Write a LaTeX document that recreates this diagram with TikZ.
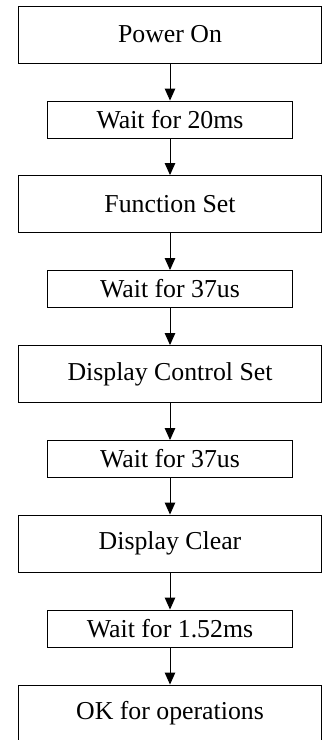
\documentclass[tikz,border=0pt]{standalone}
\usepackage{fontspec}
\setmainfont{Liberation Serif}
\usetikzlibrary{arrows.meta}
\begin{document}
\begin{tikzpicture}[x=1pt,y=-1pt,
  bigbox/.style={draw, line width=0.9pt, minimum width=303pt, minimum height=57pt, inner sep=0pt,
    font=\fontsize{25.8}{30}\selectfont},
  smallbox/.style={draw, line width=0.9pt, minimum width=245pt, minimum height=37pt, inner sep=0pt,
    font=\fontsize{25.8}{30}\selectfont},
  flow/.style={line width=1pt, -{Triangle[width=10.5pt,length=12pt]}}]
\useasboundingbox (0,0) rectangle (323,740);
\fill[white] (0,0) rectangle (323,740);
\node[bigbox] (b1) at (170,34.5) {Power On};
\node[smallbox] (s1) at (170,119.5) {Wait for 20ms};
\node[bigbox] (b2) at (170,204) {Function Set};
\node[smallbox] (s2) at (170,289) {Wait for 37us};
\node[bigbox] (b3) at (170,374) {Display Control Set};
\node[smallbox] (s3) at (170,459) {Wait for 37us};
\node[bigbox] (b4) at (170,543.5) {Display Clear};
\node[smallbox] (s4) at (170,628.5) {Wait for 1.52ms};
\node[bigbox] (b5) at (170,713.5) {OK for operations};
\draw[flow] (b1) -- (s1);
\draw[flow] (s1) -- (b2);
\draw[flow] (b2) -- (s2);
\draw[flow] (s2) -- (b3);
\draw[flow] (b3) -- (s3);
\draw[flow] (s3) -- (b4);
\draw[flow] (b4) -- (s4);
\draw[flow] (s4) -- (b5);
\end{tikzpicture}
\end{document}
